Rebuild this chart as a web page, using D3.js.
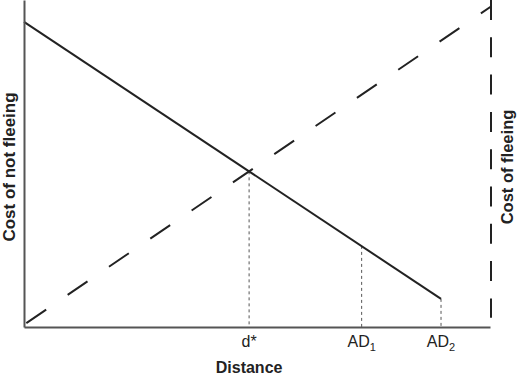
<!DOCTYPE html>
<html lang="en">
<head>
    <meta charset="UTF-8">
    <title>Cost of fleeing vs distance</title>
    <script src="https://d3js.org/d3.v7.min.js"></script>
    <style>
        body {
            margin: 0;
            padding: 0;
            background: #fff;
        }
        svg text {
            font-family: "Liberation Sans", Arial, sans-serif;
            fill: #222;
        }
    </style>
</head>
<body>
    <div id="wrapper"></div>
    <script>
        // data (axis units 0-100)
        const notFleeingX = [0, 89.3]
        const notFleeingY = [93.3, 8.6]
        const fleeingX = [0.5, 100]
        const fleeingY = [1.2, 98]
        const fleeingLimitX = [100, 100]
        const fleeingLimitY = [100, 2.8]

        const tickValues = [48.2, 72.3, 89.3]
        const tickLabels = ["d*", "AD", "AD"]
        const tickSubs = ["", "1", "2"]
        const dropHeights = [47.6, 24.8, 8.6]

        // dimensions
        const width = 517
        const height = 377

        const svg = d3.select("#wrapper")
            .append("svg")
                .attr("width", width)
                .attr("height", height)

        // scales
        const xScale = d3.scaleLinear()
            .domain([0, 100])
            .range([24, 491])

        const yScale = d3.scaleLinear()
            .domain([0, 100])
            .range([327, 0])

        const line = d3.line()
            .x(d => xScale(d[0]))
            .y(d => yScale(d[1]))

        // drop lines from the solid curve to the axis
        svg.selectAll(".drop")
            .data(tickValues)
            .enter()
            .append("line")
                .attr("class", "drop")
                .attr("x1", d => xScale(d))
                .attr("x2", d => xScale(d))
                .attr("y1", (d, i) => yScale(dropHeights[i]))
                .attr("y2", yScale(0))
                .attr("stroke", "#555")
                .attr("stroke-width", 1)
                .attr("stroke-dasharray", "3,3")

        // cost of fleeing (dashed)
        svg.append("path")
            .attr("d", line(d3.zip(fleeingX, fleeingY)))
            .attr("fill", "none")
            .attr("stroke", "#222")
            .attr("stroke-width", 2)
            .attr("stroke-dasharray", "24,26")

        svg.append("path")
            .attr("d", line(d3.zip(fleeingLimitX, fleeingLimitY)))
            .attr("fill", "none")
            .attr("stroke", "#222")
            .attr("stroke-width", 2)
            .attr("stroke-dasharray", "20,17.3")

        // cost of not fleeing (solid)
        svg.append("path")
            .attr("d", line(d3.zip(notFleeingX, notFleeingY)))
            .attr("fill", "none")
            .attr("stroke", "#222")
            .attr("stroke-width", 2)

        // axes
        const xAxis = svg.append("g")
            .attr("transform", `translate(0, ${yScale(0)})`)
            .call(d3.axisBottom(xScale.copy().range([24, 490]))
                .tickValues([])
                .tickSizeOuter(0))

        const yAxis = svg.append("g")
            .attr("transform", `translate(${xScale(0)}, 0)`)
            .call(d3.axisLeft(yScale)
                .tickValues([])
                .tickSizeOuter(0))

        svg.selectAll(".domain")
            .attr("stroke", "#555")
            .attr("stroke-width", 2)

        // tick labels with subscripts
        const labels = svg.selectAll(".tick-label")
            .data(tickValues)
            .enter()
            .append("text")
                .attr("class", "tick-label")
                .attr("x", d => xScale(d))
                .attr("y", 347)
                .attr("text-anchor", "middle")
                .style("font-size", "16px")

        labels.append("tspan")
            .text((d, i) => tickLabels[i])

        labels.append("tspan")
            .attr("dy", 4)
            .style("font-size", "11px")
            .text((d, i) => tickSubs[i])

        // axis titles
        svg.append("text")
            .attr("x", xScale(48.2))
            .attr("y", 373)
            .attr("text-anchor", "middle")
            .style("font-size", "16px")
            .style("font-weight", "bold")
            .text("Distance")

        svg.append("text")
            .attr("transform", "translate(15, 167) rotate(-90)")
            .attr("text-anchor", "middle")
            .style("font-size", "17px")
            .style("font-weight", "bold")
            .text("Cost of not fleeing")

        svg.append("text")
            .attr("transform", "translate(513, 167) rotate(-90)")
            .attr("text-anchor", "middle")
            .style("font-size", "16.5px")
            .style("font-weight", "bold")
            .text("Cost of fleeing")
    </script>
</body>
</html>
